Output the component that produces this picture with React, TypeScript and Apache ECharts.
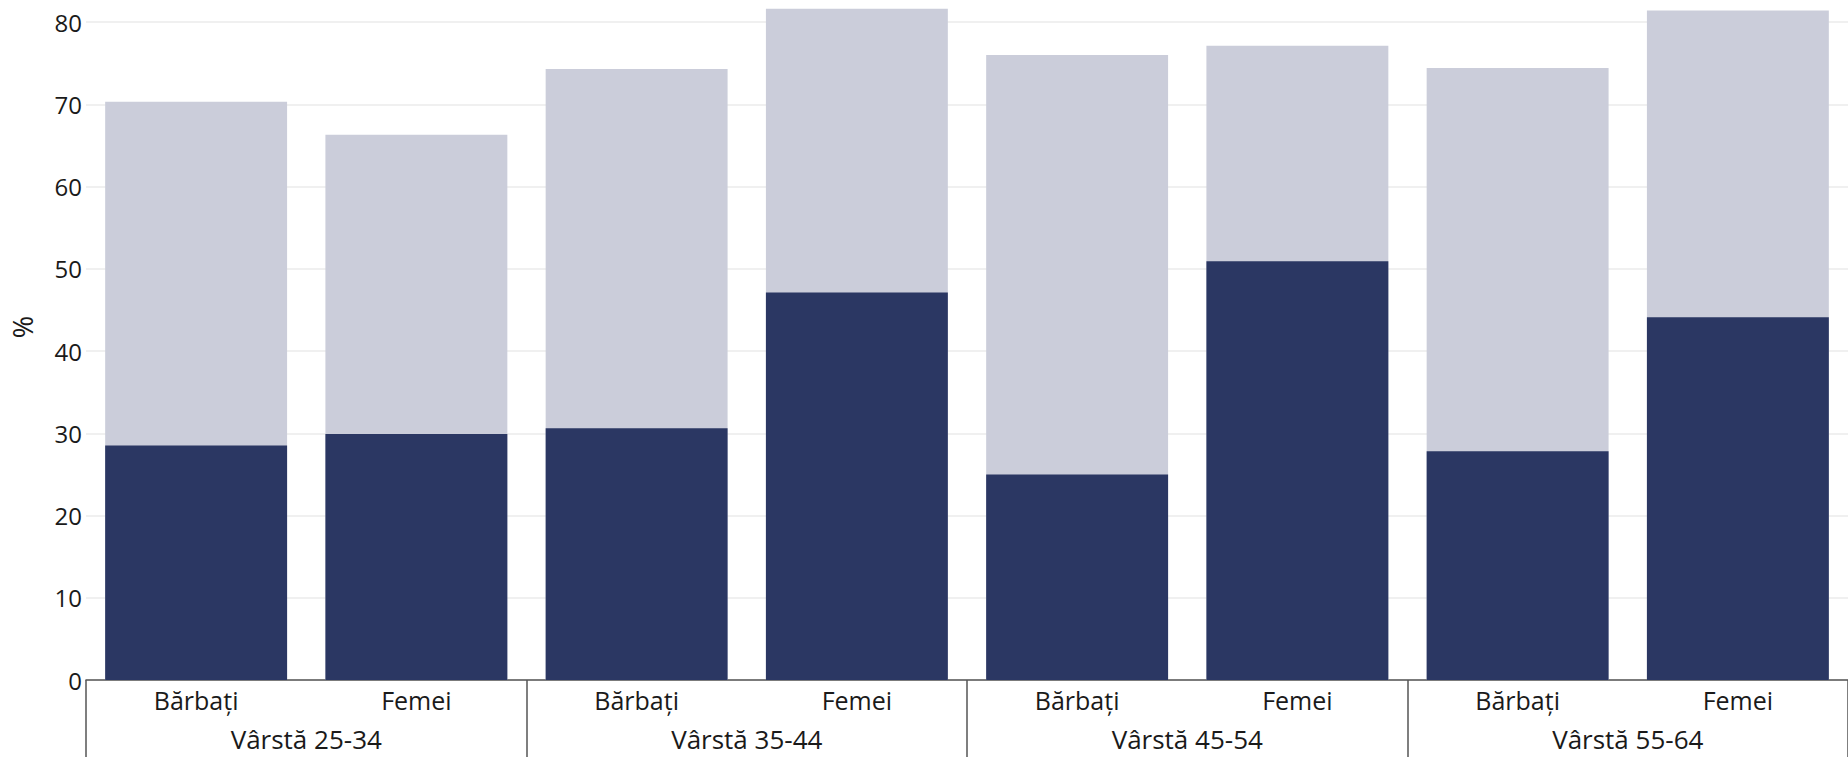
import React, { useEffect, useRef } from "react";
import * as echarts from "echarts";

const genders = ["Bărbați", "Femei", "Bărbați", "Femei", "Bărbați", "Femei", "Bărbați", "Femei"];
const ageGroups = ["Vârstă 25-34", "Vârstă 35-44", "Vârstă 45-54", "Vârstă 55-64"];
const lowerValues = [28.5, 29.9, 30.6, 47.1, 25.0, 50.9, 27.8, 44.1];
const totalValues = [70.3, 66.3, 74.3, 81.6, 76.0, 77.1, 74.4, 81.4];
const yAxisName = "%";

const FONT = "'Open Sans', 'Noto Sans', sans-serif";
const TEXT = "#1a1a1a";
const AXIS = "#555555";

export default function App() {
  const ref = useRef<HTMLDivElement>(null);
  useEffect(() => {
    if (!ref.current) return;
    const chart = echarts.init(ref.current, null, { renderer: "svg" });
    chart.setOption({
      animation: false,
      textStyle: { fontFamily: FONT },
      grid: { left: 86, right: -10, top: 22, bottom: 77 },
      graphic: [
        {
          type: "text",
          x: 22,
          y: 327,
          rotation: Math.PI / 2,
          style: {
            text: yAxisName,
            font: `27px ${FONT}`,
            fill: TEXT,
            align: "center",
            verticalAlign: "middle",
          },
        },
      ],
      xAxis: [
        {
          type: "category",
          data: genders,
          position: "bottom",
          axisLine: { show: true, lineStyle: { color: AXIS, width: 1.5 } },
          axisTick: { show: false },
          axisLabel: { interval: 0, fontSize: 25, color: TEXT, margin: 7, fontFamily: FONT },
          splitLine: { show: false },
        },
        {
          type: "category",
          data: ageGroups,
          position: "bottom",
          axisLine: { show: false },
          axisTick: { show: true, interval: 0, length: 82, lineStyle: { color: AXIS, width: 1.5 } },
          axisLabel: { interval: 0, fontSize: 26, color: TEXT, margin: 46, fontFamily: FONT },
          splitLine: { show: false },
        },
      ],
      yAxis: {
        type: "value",
        min: 0,
        max: 80,
        interval: 10,
        axisLine: { show: false },
        axisTick: { show: false },
        axisLabel: { fontSize: 24, color: TEXT, margin: 4, fontFamily: FONT },
        splitLine: { show: true, lineStyle: { color: "#ebebeb", width: 1.5 } },
      },
      series: [
        {
          type: "bar",
          name: "total",
          data: totalValues,
          xAxisIndex: 0,
          barGap: "-100%",
          barCategoryGap: "17.4%",
          clip: false,
          itemStyle: { color: "#cbcdda" },
        },
        {
          type: "bar",
          name: "lower",
          data: lowerValues,
          xAxisIndex: 0,
          barGap: "-100%",
          barCategoryGap: "17.4%",
          clip: false,
          itemStyle: { color: "#2b3763" },
        },
      ],
    });
    return () => chart.dispose();
  }, []);
  return (
    <div
      ref={ref}
      style={{ position: "absolute", left: 0, top: 0, width: 1848, height: 757 }}
    />
  );
}
